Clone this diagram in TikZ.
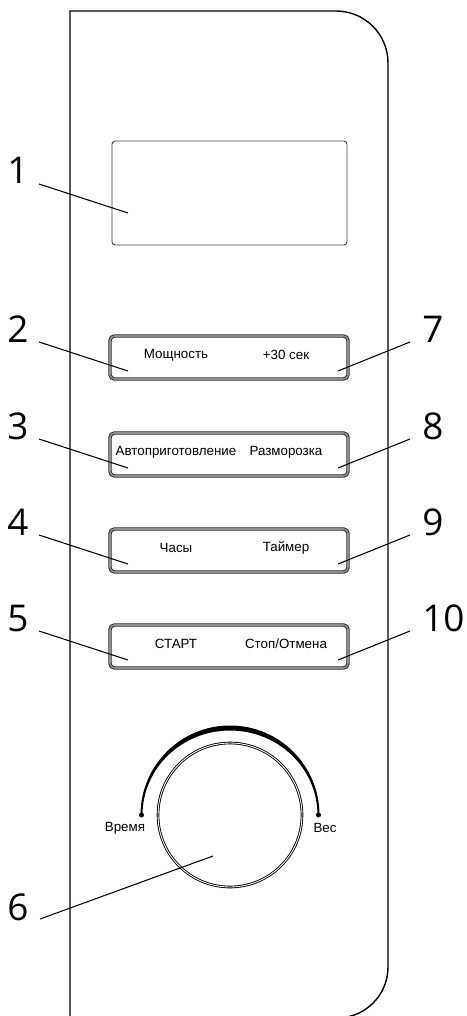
\documentclass[tikz,border=0pt]{standalone}
\usepackage{fontspec}
\setmainfont{Liberation Sans}
\newfontfamily\numfont{Open Sans}
\tikzset{
  panel/.style={line width=0.8pt},
  btn/.style={draw=black!85, double=black!45, double distance=0.9pt, line width=0.5pt,
              rounded corners=2.5pt, minimum width=4.76cm, minimum height=0.86cm},
  knob/.style={draw, double=white, double distance=0.5pt, line width=0.5pt, circle,
               minimum size=2.88cm},
  lead/.style={line width=0.6pt},
  num/.style={font=\numfont\fontsize{21}{21}\selectfont, inner sep=0pt},
  btntext/.style={font=\fontsize{7.6}{9}\selectfont, inner sep=0pt}
}
\begin{document}
\begin{tikzpicture}[x=0.02cm,y=0.02cm]
  \useasboundingbox (0,0) rectangle (466,-1016);
  \draw[panel] (70,-1030) -- (70,-11) -- (336,-11) arc[start angle=90,end angle=0,radius=52]
     -- (388,-967) arc[start angle=0,end angle=-90,radius=51];

  \node[draw=black!75, line width=0.5pt, rounded corners=1.8pt, minimum width=4.7cm,
        minimum height=2.08cm] (disp) at (229.5,-193) {};
  \node[num, anchor=base] (n1) at (18,-184) {1};
  \coordinate (s1) at (39,-184);
  \coordinate (e1) at (128,-213);
  \draw[lead] (s1) -- (e1);

  \foreach \k/\t/\l/\r/\a/\b in {1/336/2/7/Мощность/+30 сек,
                                 2/433/3/8/Автоприготовление/Разморозка,
                                 3/529/4/9/Часы/Таймер,
                                 4/625/5/10/СТАРТ/{Стоп/Отмена}}
    {
      \node[btn] (b\k) at (229,{-\t-21.5}) {};
      \node[btntext] (bl\k) at (176,{-\t-19}) {\a};
      \node[btntext] (br\k) at (286,{-\t-19}) {\b};
      \node[num, anchor=base] (n\l) at (18,{-\t-6}) {\l};
      \node[num, anchor=base west] (n\r) at (422,{-\t-6}) {\r};
      \coordinate (s\l) at (39,{-\t-6});
      \coordinate (e\l) at (128,{-\t-35});
      \coordinate (s\r) at (410,{-\t-6});
      \coordinate (e\r) at (338,{-\t-35});
      \draw[lead] (s\l) -- (e\l);
      \draw[lead] (s\r) -- (e\r);
    }

  \node[knob] (knob) at (230,-815) {};
  \fill (319.5,-815) arc[start angle=0,end angle=180,radius=89.5]
     -- (142.5,-815) arc[start angle=180,end angle=0,x radius=87.5,y radius=84.5] -- cycle;
  \coordinate (tl) at (141.5,-815);
  \coordinate (tr) at (318.5,-815);
  \fill (tl) circle[radius=2.5];
  \fill (tr) circle[radius=2.5];
  \node[btntext] (time) at (125,-828) {Время};
  \node[btntext] (wt) at (325,-828) {Вес};
  \node[num, anchor=base] (n6) at (18,-920) {6};
  \coordinate (s6) at (40,-919);
  \coordinate (e6) at (213,-856);
  \draw[lead] (s6) -- (e6);
\end{tikzpicture}
\end{document}
